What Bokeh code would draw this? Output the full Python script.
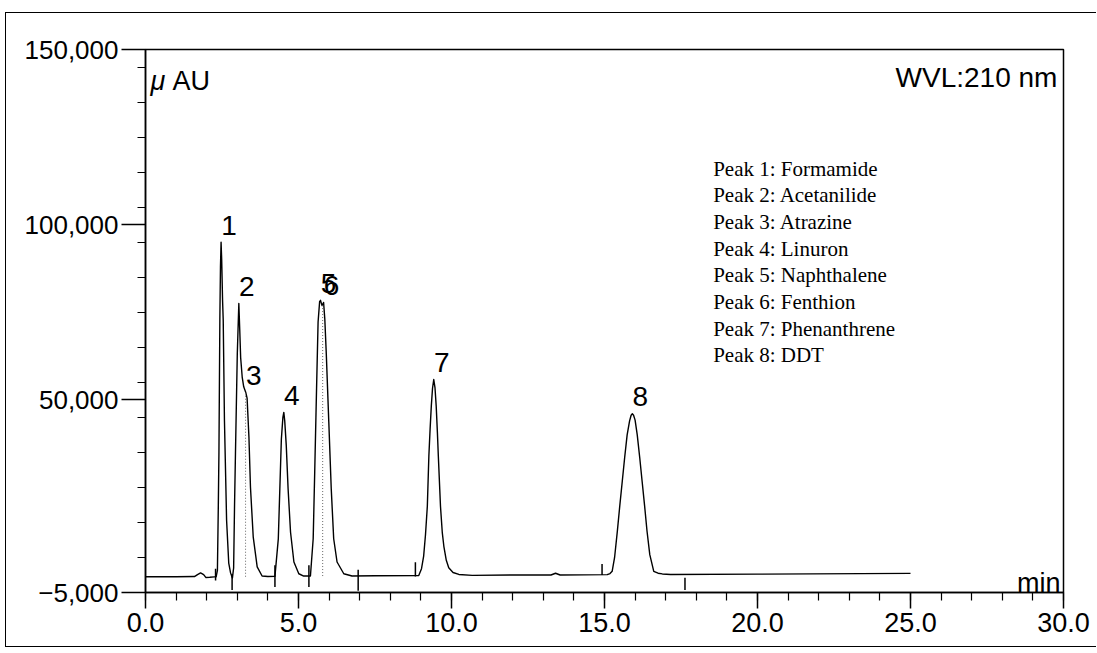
from bokeh.plotting import figure
from bokeh.models import FixedTicker, Range1d
from bokeh.core.properties import value
from bokeh.embed import file_html
from bokeh.resources import INLINE

# ---------------- data ----------------
trace_t = [0.00, 1.00, 1.60, 1.70, 1.80, 1.90, 1.97, 2.10, 2.25, 2.31,
           2.35, 2.38, 2.40, 2.43, 2.45, 2.47, 2.49, 2.52, 2.54, 2.58,
           2.65, 2.72, 2.78, 2.84, 2.88, 2.91, 2.94, 3.00, 3.05, 3.08,
           3.11, 3.16, 3.21, 3.28, 3.32, 3.38, 3.43, 3.52, 3.65, 3.81,
           4.00, 4.23, 4.34, 4.39, 4.44, 4.49, 4.52, 4.55, 4.60, 4.66,
           4.74, 4.85, 5.01, 5.17, 5.39, 5.48, 5.53, 5.59, 5.64, 5.69,
           5.72, 5.77, 5.82, 5.86, 5.91, 5.99, 6.07, 6.15, 6.26, 6.48,
           6.75, 7.50, 8.93, 9.02, 9.09, 9.15, 9.21, 9.26, 9.30, 9.34,
           9.38, 9.42, 9.46, 9.50, 9.54, 9.57, 9.64, 9.70, 9.75, 9.83,
           9.91, 10.05, 10.24, 10.68, 12.00, 13.25, 13.40, 13.55, 15.09, 15.18,
           15.25, 15.33, 15.42, 15.50, 15.58, 15.66, 15.74, 15.82, 15.87, 15.91,
           15.95, 16.00, 16.07, 16.15, 16.23, 16.31, 16.39, 16.48, 16.61, 16.75,
           16.89, 17.16, 20.00, 25.00]
trace_v = [-500, -500, -450, 100, 600, 100, -700, -650, -550, -500,
           1300, 20000, 35000, 73000, 88000, 95000, 90000, 78000, 72700, 44200,
           15600, 3400, 600, -900, 2000, 20000, 34700, 63200, 77500, 70000,
           62000, 56500, 53700, 52000, 50500, 39400, 25100, 10900, 2300, -300,
           -450, -400, 10300, 24600, 38800, 45000, 46400, 44000, 37000, 24600,
           12200, 3700, 350, -300, -300, 10350, 29400, 53200, 72200, 78000,
           78400, 76900, 77800, 73000, 62700, 43700, 24600, 10350, 3700, 350,
           -300, -200, -150, 1800, 5400, 11500, 19600, 33900, 41500, 48200,
           53300, 55800, 53500, 48200, 40500, 33900, 19600, 12000, 8200, 4200,
           2050, 700, 150, -100, 0, 0, 500, 0, 100, 400,
           1050, 5000, 12500, 19800, 26700, 33600, 40000, 44000, 45600, 46000,
           45600, 44200, 40000, 33600, 26700, 19800, 12500, 5800, 1050, 500,
           300, 150, 250, 450]

peak_labels = ["1", "2", "3", "4", "5", "6", "7", "8"]
peak_times = [2.47, 3.05, 3.28, 4.52, 5.72, 5.82, 9.42, 15.91]
peak_heights = [95000, 77500, 52000, 46400, 78400, 77800, 55800, 46000]

peak_names = ["Peak 1: Formamide", "Peak 2: Acetanilide", "Peak 3: Atrazine",
              "Peak 4: Linuron", "Peak 5: Naphthalene", "Peak 6: Fenthion",
              "Peak 7: Phenanthrene", "Peak 8: DDT"]

# integration marks on the baseline (time, low, high)
mark_t = [2.29, 2.83, 4.23, 5.34, 6.95, 8.82, 14.92, 17.63]
mark_lo = [-1600, -4300, -3400, -3400, -4500, -400, 0, -4300]
mark_hi = [1800, 300, 2800, 2800, 1500, 3600, 3100, -800]

# dotted drop lines between fused peaks
drop_t = [3.27, 5.79]
drop_lo = [-500, -300]
drop_hi = [52000, 77000]

x_ticks = [0, 5, 10, 15, 20, 25, 30]
x_tick_labels = ["0.0", "5.0", "10.0", "15.0", "20.0", "25.0", "30.0"]
x_minor = list(range(0, 31))
y_ticks = [-5000, 50000, 100000, 150000]
y_tick_labels = ["\u22125,000", "50,000", "100,000", "150,000"]
y_minor = list(range(5000, 150000, 10000))

# ---------------- figure ----------------
SANS = "Liberation Sans"
SERIF = "Liberation Serif"

p = figure(width=1091, height=635, x_range=Range1d(0, 30), y_range=Range1d(-5000, 150000),
           output_backend="svg", toolbar_location=None,
           min_border_left=139, min_border_right=34, min_border_top=36, min_border_bottom=56)
p.styles = {"margin-left": "5px", "margin-top": "12px",
            "border-left": "1px solid #000", "border-top": "1px solid #000",
            "border-bottom": "1px solid #000"}
p.background_fill_color = "white"
p.border_fill_color = "white"
p.xgrid.visible = False
p.ygrid.visible = False
p.outline_line_color = "black"
p.outline_line_width = 1.5
p.outline_line_alpha = 1.0

for ax in (p.xaxis[0], p.yaxis[0]):
    ax.axis_line_color = "black"
    ax.axis_line_width = 1.5
    ax.major_tick_line_color = "black"
    ax.major_tick_line_width = 1.5
    ax.minor_tick_line_color = "black"
    ax.minor_tick_line_width = 1.2
    ax.major_tick_in = 0
    ax.minor_tick_in = 0
    ax.major_label_text_color = "black"
    ax.major_label_text_font = SANS

xa = p.xaxis[0]
xa.ticker = FixedTicker(ticks=x_ticks, minor_ticks=x_minor)
xa.major_label_overrides = dict(zip(x_ticks, x_tick_labels))
xa.major_tick_out = 16
xa.minor_tick_out = 8
xa.major_label_standoff = 4
xa.major_label_text_font_size = "27px"

ya = p.yaxis[0]
ya.ticker = FixedTicker(ticks=y_ticks, minor_ticks=y_minor)
ya.major_label_overrides = dict(zip(y_ticks, y_tick_labels))
ya.major_tick_out = 24
ya.minor_tick_out = 8
ya.major_label_standoff = 3
ya.major_label_text_font_size = "26px"

# chromatogram trace
p.line(trace_t, trace_v, line_color="black", line_width=1.4, line_join="round")

# integration marks & drop lines
p.segment(x0=mark_t, y0=mark_lo, x1=mark_t, y1=mark_hi, line_color="black", line_width=1.5)
p.segment(x0=drop_t, y0=drop_lo, x1=drop_t, y1=drop_hi, line_color="#666666",
          line_width=1, line_dash="1 2")

# peak numbers
p.text(x=peak_times, y=peak_heights, text=peak_labels, text_font=value(SANS),
       text_font_size="28px", text_align="center", text_baseline="middle",
       text_color="black", x_offset=8, y_offset=-17)

# legend text (serif, top right)
legend_x = [18.55] * len(peak_names)
legend_y = [116000 - 7620 * i for i in range(len(peak_names))]
p.text(x=legend_x, y=legend_y, text=peak_names, text_font=value(SERIF),
       text_font_size="21px", text_align="left", text_baseline="alphabetic",
       text_color="black")

# unit / wavelength / axis-name texts
p.text(x=[0.16], y=[141000], text=["\u03bc"], text_font=value(SANS), text_font_style="italic",
       text_font_size="27px", text_align="left", text_baseline="alphabetic", text_color="black")
p.text(x=[0.88], y=[141000], text=["AU"], text_font=value(SANS),
       text_font_size="27px", text_align="left", text_baseline="alphabetic", text_color="black")
p.text(x=[29.8], y=[142000], text=["WVL:210 nm"], text_font=value(SANS),
       text_font_size="28px", text_align="right", text_baseline="alphabetic", text_color="black")
p.text(x=[29.9], y=[-2400], text=["min"], text_font=value(SANS),
       text_font_size="27px", text_align="right", text_baseline="alphabetic", text_color="black")

open("out.html", "w").write(file_html(p, INLINE))
